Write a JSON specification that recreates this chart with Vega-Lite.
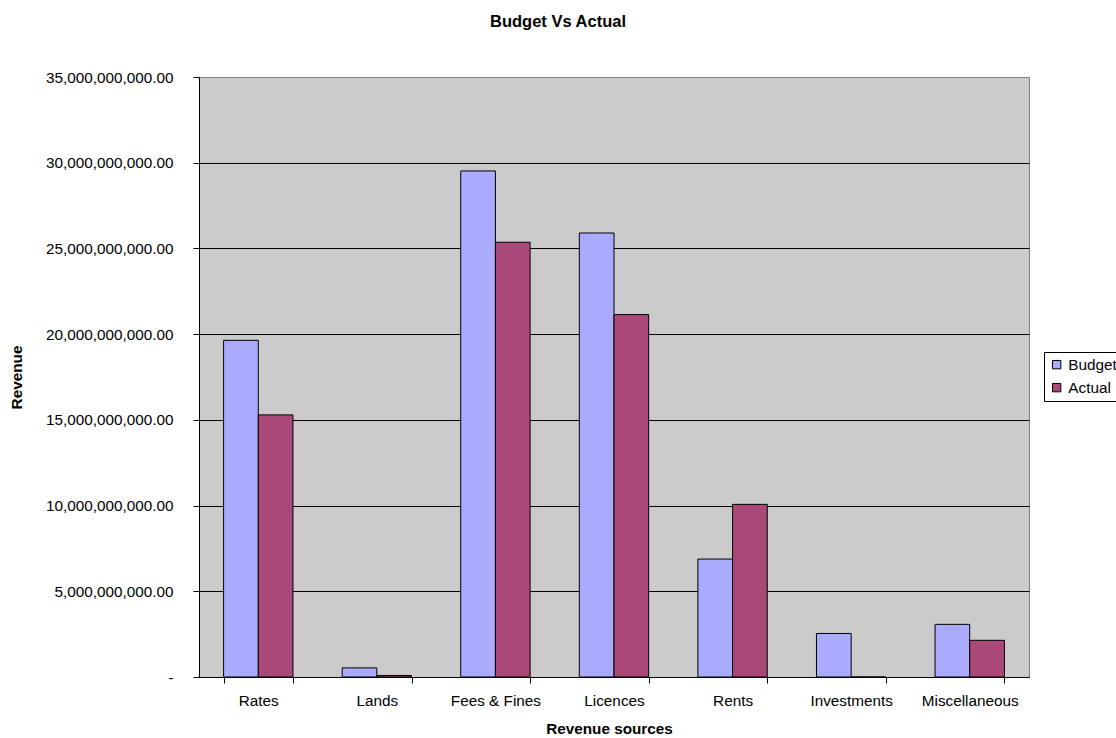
{
  "$schema": "https://vega.github.io/schema/vega-lite/v6.json",
  "width": 830,
  "height": 600,
  "autosize": {"type": "none"},
  "padding": {"left": 199, "top": 77, "right": 87, "bottom": 61},
  "background": "#FFFFFF",
  "title": {
    "text": "Budget Vs Actual",
    "anchor": "middle",
    "frame": "group",
    "dx": -56,
    "offset": 40,
    "font": "Liberation Sans",
    "fontSize": 16.5,
    "fontWeight": "bold",
    "color": "#000000"
  },
  "data": {
    "values": [
      {"source": "Rates", "series": "Budget", "revenue": 19640000000},
      {"source": "Rates", "series": "Actual", "revenue": 15290000000},
      {"source": "Lands", "series": "Budget", "revenue": 530000000},
      {"source": "Lands", "series": "Actual", "revenue": 90000000},
      {"source": "Fees & Fines", "series": "Budget", "revenue": 29520000000},
      {"source": "Fees & Fines", "series": "Actual", "revenue": 25360000000},
      {"source": "Licences", "series": "Budget", "revenue": 25900000000},
      {"source": "Licences", "series": "Actual", "revenue": 21140000000},
      {"source": "Rents", "series": "Budget", "revenue": 6880000000},
      {"source": "Rents", "series": "Actual", "revenue": 10070000000},
      {"source": "Investments", "series": "Budget", "revenue": 2540000000},
      {"source": "Investments", "series": "Actual", "revenue": 0},
      {"source": "Miscellaneous", "series": "Budget", "revenue": 3070000000},
      {"source": "Miscellaneous", "series": "Actual", "revenue": 2140000000}
    ]
  },
  "mark": {"type": "bar", "stroke": "#000000", "strokeWidth": 1, "opacity": 1},
  "encoding": {
    "x": {
      "field": "source",
      "type": "nominal",
      "sort": null,
      "scale": {"paddingInner": 0.415, "paddingOuter": 0.2075},
      "axis": {
        "title": "Revenue sources",
        "titleX": 410,
        "titleAlign": "center",
        "labelAngle": 0,
        "tickBand": "extent",
        "tickSize": 6,
        "labelPadding": 10,
        "titlePadding": 13
      }
    },
    "xOffset": {
      "field": "series",
      "type": "nominal",
      "sort": ["Budget", "Actual"],
      "scale": {"paddingInner": 0, "paddingOuter": 0}
    },
    "y": {
      "field": "revenue",
      "type": "quantitative",
      "scale": {"domain": [0, 35000000000], "nice": false, "zero": true},
      "axis": {
        "title": "Revenue",
        "values": [0, 5000000000, 10000000000, 15000000000, 20000000000, 25000000000, 30000000000, 35000000000],
        "labelExpr": "datum.value == 0 ? '-\u00a0\u00a0\u00a0' : format(datum.value, ',.2f')",
        "grid": true,
        "gridColor": {"condition": {"test": "datum.value >= 35000000000", "value": "#808080"}, "value": "#000000"},
        "gridWidth": 1,
        "tickSize": 6,
        "labelPadding": 20,
        "titlePadding": 21
      }
    },
    "color": {
      "field": "series",
      "type": "nominal",
      "scale": {"domain": ["Budget", "Actual"], "range": ["#AAABFF", "#AA4977"]},
      "legend": {
        "title": null,
        "orient": "none",
        "legendX": 845,
        "legendY": 275,
        "symbolType": "square",
        "symbolSize": 70,
        "symbolStrokeColor": "#000000",
        "symbolStrokeWidth": 1,
        "symbolOpacity": 1,
        "fillColor": "#FFFFFF",
        "strokeColor": "#000000",
        "padding": 5,
        "rowPadding": 7,
        "labelFont": "Liberation Sans",
        "labelFontSize": 15.3,
        "labelColor": "#000000",
        "labelOffset": 4
      }
    }
  },
  "config": {
    "font": "Liberation Sans",
    "view": {"fill": "#CBCBCB", "stroke": "#808080", "strokeWidth": 1},
    "axis": {
      "labelFont": "Liberation Sans",
      "labelFontSize": 15.3,
      "labelColor": "#000000",
      "titleFont": "Liberation Sans",
      "titleFontSize": 15.3,
      "titleFontWeight": "bold",
      "titleColor": "#000000",
      "domainColor": "#000000",
      "domainWidth": 1,
      "tickColor": "#000000",
      "tickWidth": 1
    }
  }
}
